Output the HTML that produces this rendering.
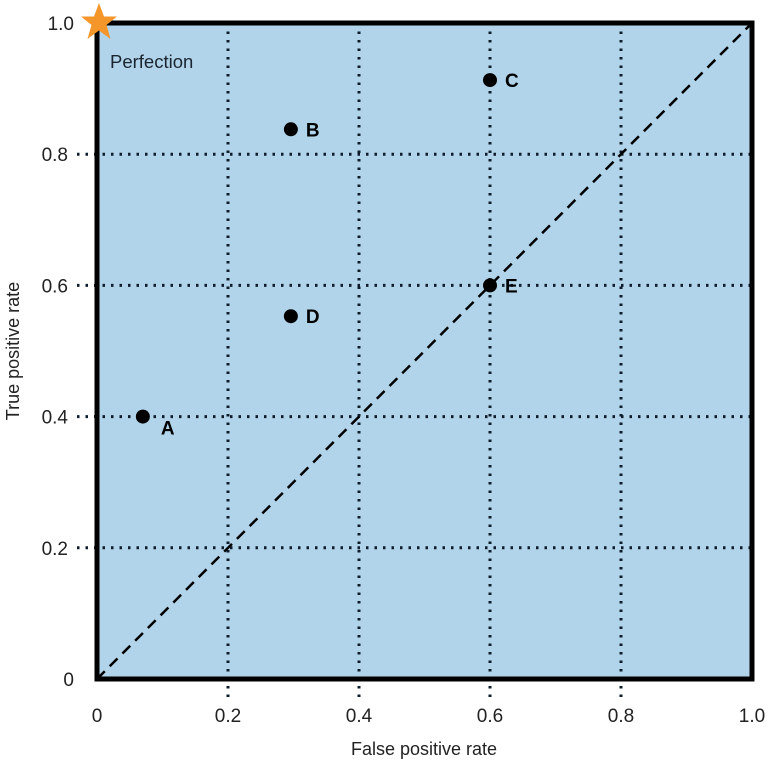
<!DOCTYPE html>
<html><head><meta charset="utf-8"><style>
html,body{margin:0;padding:0;background:#fff;}
svg{display:block;font-family:"Liberation Sans Narrow","Liberation Sans",sans-serif;}
</style></head><body>
<svg id="chart" width="775" height="764" viewBox="0 0 775 764">
<rect x="97" y="23" width="655" height="656" fill="#b1d4ea"/>
<g id="grid"></g>
<line x1="97" y1="679" x2="752" y2="23" stroke="#000" stroke-width="2.5" stroke-dasharray="11,7"/>
<g id="points"></g>
<rect x="97" y="23" width="655" height="656" fill="none" stroke="#000" stroke-width="5"/>
<g id="ticks"></g>
<polygon fill="#f5962a" points="99,3 104,16.5 117,16.5 106.5,25 110.5,39 99,30.5 87.5,39 91.5,25 81,16.5 94,16.5"/>
<text x="110" y="68" font-size="18.5" fill="#1a2530">Perfection</text>
<text x="424" y="755" font-size="18" text-anchor="middle" fill="#222">False positive rate</text>
<text transform="translate(19,351) rotate(-90)" font-size="18" text-anchor="middle" fill="#222">True positive rate</text>
</svg>
<script>
const tickValues=[0,0.2,0.4,0.6,0.8,1.0];
const tickLabels=["0","0.2","0.4","0.6","0.8","1.0"];
const pointNames=["A","B","C","D","E"];
const fprValues=[0.07,0.296,0.6,0.296,0.6];
const tprValues=[0.40,0.838,0.913,0.553,0.60];
const NS="http://www.w3.org/2000/svg";
const X=v=>97+v*655, Y=v=>679-v*656;
function mk(t,a,p){const e=document.createElementNS(NS,t);for(const k in a)e.setAttribute(k,a[k]);p.appendChild(e);return e;}
const grid=document.getElementById('grid'),ticks=document.getElementById('ticks'),pts=document.getElementById('points');
tickValues.forEach((v,i)=>{
  if(v>0&&v<1){
    const gv=mk('line',{x1:X(v),y1:Y(1),x2:X(v),y2:Y(0)+18,stroke:'#0d1b2a','stroke-width':3,'stroke-dasharray':'2.5,6'},grid);
    
    
    const gh=mk('line',{x1:X(0)-20,y1:Y(v),x2:X(1),y2:Y(v),stroke:'#0d1b2a','stroke-width':3,'stroke-dasharray':'2.5,6'},grid);
    
    
  }
  const tx=mk('text',{x:X(v),y:722,'font-size':19,'text-anchor':'middle',fill:'#222'},ticks);
  tx.textContent=tickLabels[i];
  
  
  const ty=mk('text',{x:v>0&&v<1?68:74,y:Y(v)+7,'font-size':19,'text-anchor':'end',fill:'#222'},ticks);
  ty.textContent=tickLabels[i];
  
  
});
pointNames.forEach((n,i)=>{
  const c=mk('circle',{cx:X(fprValues[i]),cy:Y(tprValues[i]),r:7,fill:'#000'},pts);
  
  
  const isA=n==='A';
  const t=mk('text',{x:X(fprValues[i])+(isA?18:15),y:Y(tprValues[i])+(isA?18:7),'font-size':19,'font-weight':'bold',fill:'#000'},pts);
  t.textContent=n;
  
  
});
</script>
</body></html>
